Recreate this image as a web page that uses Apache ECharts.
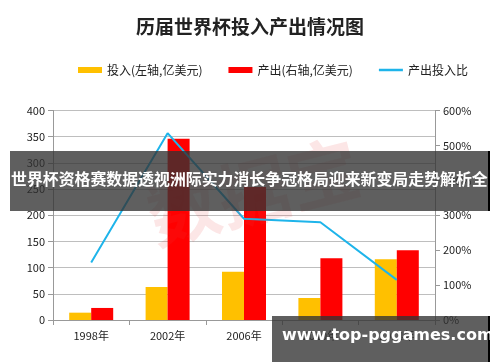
<!DOCTYPE html>
<html><head><meta charset="utf-8">
<script src="https://cdn.jsdelivr.net/npm/echarts@6/dist/echarts.min.js"></script>
<style>html,body{margin:0;padding:0;background:#fff}#c{width:500px;height:362px}</style>
</head><body><div id="c"></div>
<script>
const categories = ['1998年','2002年','2006年','2010年','2014年'];
const investment = [14, 63, 92, 42, 116];
const output = [23, 346, 254, 118, 133];
const ratio = [165, 535, 290, 280, 115];
const leftTicks = [0, 400, 50];
const rightTicks = [0, 600, 100];

const chart = echarts.init(document.getElementById('c'), null, {renderer:'canvas'});
const font = '"Noto Sans CJK SC", "Noto Sans", sans-serif';
chart.setOption({
  animation:false,
  textStyle:{fontFamily:font},
  title:{text:'历届世界杯投入产出情况图', left:'center', top:12,
    textStyle:{fontSize:19, fontWeight:'bold', color:'#222', fontFamily:font}},
  legend:{top:59, left:73, itemWidth:24, itemHeight:6, itemGap:26,
    textStyle:{fontSize:12, color:'#222'},
    data:[{name:'投入(左轴,亿美元)', icon:'rect'},{name:'产出(右轴,亿美元)', icon:'rect'},
          {name:'产出投入比', icon:'path://M0 0H24V2.5H0Z'}]},
  grid:{left:53, right:65, top:110.5, bottom:42},
  xAxis:{type:'category', data:categories,
    axisLine:{lineStyle:{color:'#999'}},
    axisTick:{show:true, length:5, lineStyle:{color:'#999'}},
    axisLabel:{fontSize:11, color:'#222', margin:10}},
  yAxis:[
    {type:'value', min:leftTicks[0], max:leftTicks[1], interval:leftTicks[2],
     axisLine:{show:true, lineStyle:{color:'#999'}},
     axisTick:{show:true, length:5, lineStyle:{color:'#999'}},
     axisLabel:{fontSize:11, color:'#222', margin:8},
     splitLine:{lineStyle:{color:'#BEBEBE'}}},
    {type:'value', min:rightTicks[0], max:rightTicks[1], interval:rightTicks[2],
     axisLine:{show:true, lineStyle:{color:'#999'}},
     axisTick:{show:true, length:5, lineStyle:{color:'#999'}},
     axisLabel:{fontSize:11, color:'#222', formatter:'{value}%', margin:8},
     splitLine:{show:false}}
  ],
  series:[
    {name:'投入(左轴,亿美元)', type:'bar', data:investment, barWidth:22, barGap:'0%',
     itemStyle:{color:'#FFC000'}},
    {name:'产出(右轴,亿美元)', type:'bar', data:output, barWidth:22, barGap:'0%',
     itemStyle:{color:'#FF0000'}},
    {name:'产出投入比', type:'line', yAxisIndex:1, data:ratio, symbol:'none',
     lineStyle:{color:'#1EB4EA', width:2}, itemStyle:{color:'#1EB4EA'}, z:5}
  ],
  graphic:[
    {type:'text', left:140, top:130, rotation:0.25, z:10, silent:true,
     style:{text:'数据宝', fontSize:72, fontWeight:'bold', fill:'rgba(230,60,60,0.13)', fontFamily:font}},
    {type:'rect', shape:{x:10, y:151, width:478, height:60}, z:20,
     style:{fill:'rgba(50,50,50,0.78)'}},
    {type:'rect', shape:{x:488, y:151, width:2, height:60}, z:20, style:{fill:'#000'}},
    {type:'text', left:11, top:171, z:21,
     style:{text:'世界杯资格赛数据透视洲际实力消长争冠格局迎来新变局走势解析全', fontSize:15.9, fontWeight:'bold', fill:'#fff', fontFamily:font}},
    {type:'rect', shape:{x:272, y:316, width:216, height:46}, z:20,
     style:{fill:'rgba(50,50,50,0.78)'}},
    {type:'rect', shape:{x:488, y:316, width:2, height:46}, z:20, style:{fill:'#000'}},
    {type:'text', left:282, top:328, z:21,
     style:{text:'www.top-pggames.com', fontSize:16, fontWeight:'bold', fill:'#fff', fontFamily:'"DejaVu Sans", sans-serif'}}
  ]
});
</script></body></html>
